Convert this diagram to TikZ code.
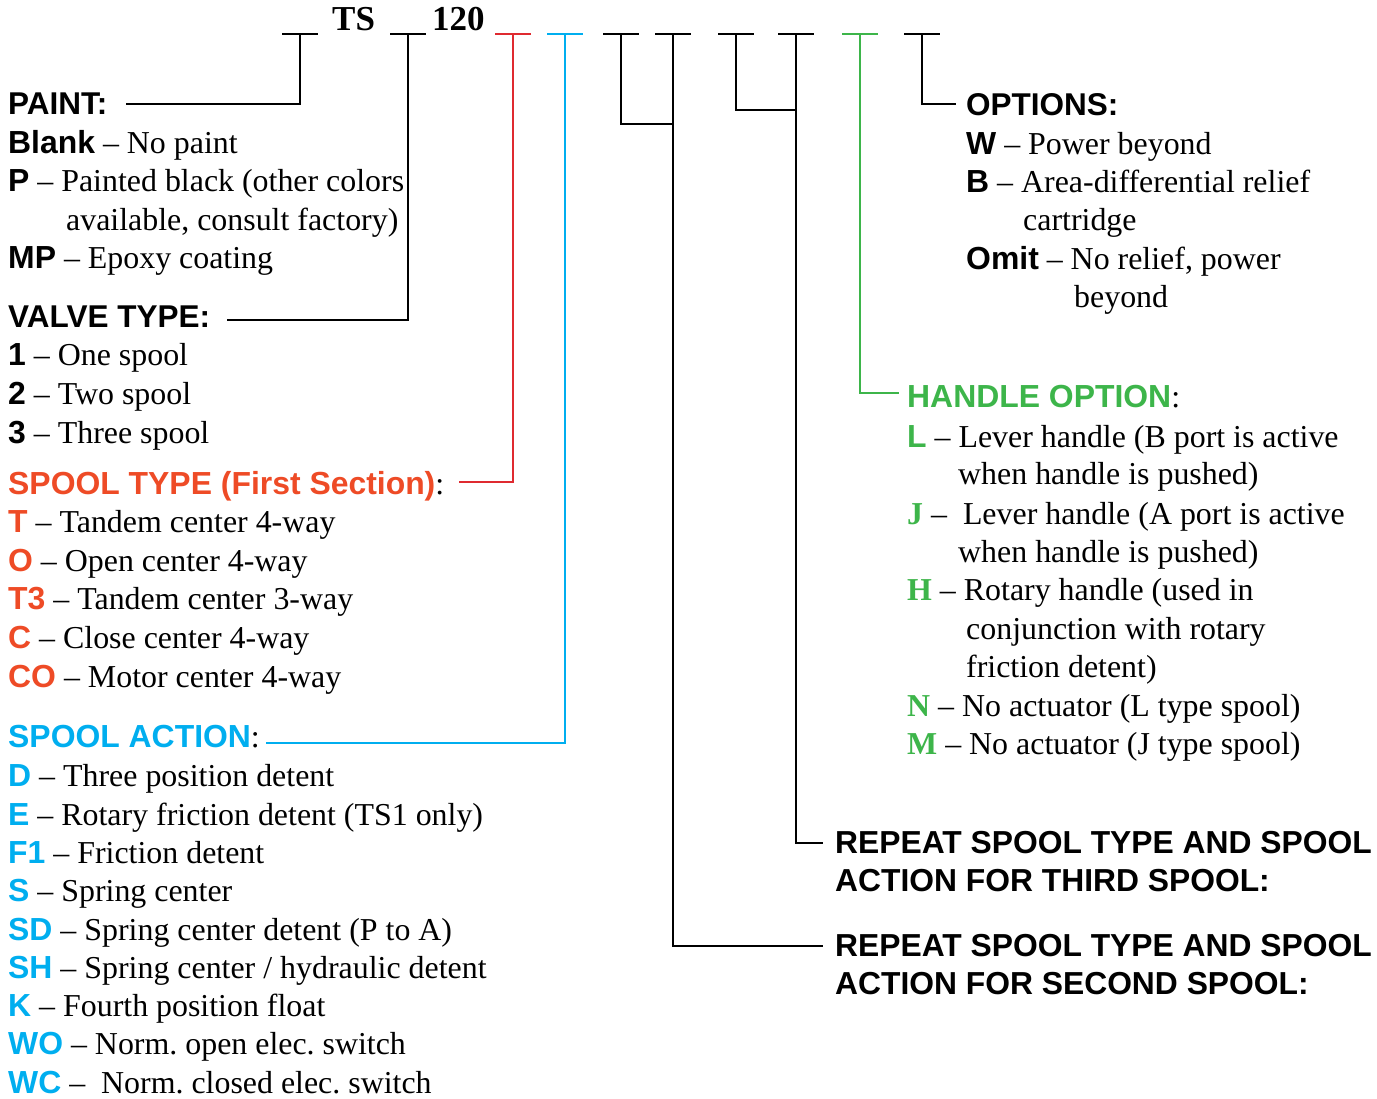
\documentclass[tikz,border=0pt]{standalone}
\usepackage{fontspec}
\setmainfont{Liberation Serif}
\setsansfont{Liberation Sans}
\frenchspacing
\definecolor{lred}{HTML}{DF2A30}
\definecolor{tred}{HTML}{EE4B26}
\definecolor{cblue}{HTML}{00AEEF}
\definecolor{cgreen}{HTML}{3DB54A}
\newcommand\kc[1]{{\sffamily\bfseries #1}}
\newcommand\ks[1]{{\bfseries #1}}
\tikzset{
  txt/.style={anchor=base west, inner sep=0pt, font=\fontsize{31.9}{38}\selectfont\frenchspacing},
  hdr/.style={txt, font=\fontsize{31.5}{38}\selectfont\sffamily\bfseries},
  rpt/.style={txt, font=\fontsize{31.8}{38}\selectfont\sffamily\bfseries},
  code/.style={txt, font=\fontsize{35}{40}\selectfont\bfseries},
  conn/.style={line width=2.4pt, line cap=rect},
  blankline/.style={line width=2.4pt},
}
\begin{document}
\begin{tikzpicture}[x=1pt,y=-1pt]
\useasboundingbox (0,0) rectangle (1377,1099);

% code header
\node[code] (ts) at (332,31) {TS};
\node[code] (onetwenty) at (432,31) {120};

% blanks (stem tops)
\coordinate (b1) at (300,34);
\coordinate (b2) at (408,34);
\coordinate (b3) at (513,34);
\coordinate (b4) at (565,34);
\coordinate (b5) at (621,34);
\coordinate (b6) at (673,34);
\coordinate (b7) at (736,34);
\coordinate (b8) at (796,34);
\coordinate (b9) at (860,34);
\coordinate (b10) at (922,34);
\foreach \b/\c in {b1/black,b2/black,b3/lred,b4/cblue,b5/black,b6/black,b7/black,b8/black,b9/cgreen,b10/black}{
  \draw[blankline,draw=\c] ([xshift=-18pt]\b) -- ([xshift=18pt]\b);
}

% connector ends
\coordinate (e1) at (127,104);
\coordinate (e2) at (228,320);
\coordinate (e3) at (460,482);
\coordinate (e4) at (267,743);
\coordinate (j5) at (673,124);
\coordinate (e6) at (822,946);
\coordinate (j7) at (796,110);
\coordinate (e8) at (822,843);
\coordinate (e9) at (898,393);
\coordinate (e10) at (955,104);

\draw[conn] (b1) |- (e1);
\draw[conn] (b2) |- (e2);
\draw[conn,draw=lred] (b3) |- (e3);
\draw[conn,draw=cblue] (b4) |- (e4);
\draw[conn] (b5) |- (j5);
\draw[conn] (b6) |- (e6);
\draw[conn] (b7) |- (j7);
\draw[conn] (b8) |- (e8);
\draw[conn,draw=cgreen] (b9) |- (e9);
\draw[conn] (b10) |- (e10);

% left column
\node[hdr] (paint) at (8,115) {PAINT:};
\node[txt] (p1) at (8,154) {\kc{Blank} -- No paint};
\node[txt] (p2) at (8,192) {\kc{P} -- Painted black (other colors};
\node[txt] (p3) at (66,231) {available, consult factory)};
\node[txt] (p4) at (8,269) {\kc{MP} -- Epoxy coating};

\node[hdr] (valve) at (8,328) {VALVE TYPE:};
\node[txt] (v1) at (8,366) {\kc{1} -- One spool};
\node[txt] (v2) at (8,404) {\kc{2} -- Two spool};
\node[txt] (v3) at (8,443) {\kc{3} -- Three spool};

\node[txt] (stype) at (8,494) {\kc{\color{tred}SPOOL TYPE (First Section)}:};
\node[txt] (s1) at (8,532) {\kc{\color{tred}T} -- Tandem center 4-way};
\node[txt] (s2) at (8,571) {\kc{\color{tred}O} -- Open center 4-way};
\node[txt] (s3) at (8,609) {\kc{\color{tred}T3} -- Tandem center 3-way};
\node[txt] (s4) at (8,648) {\kc{\color{tred}C} -- Close center 4-way};
\node[txt] (s5) at (8,687) {\kc{\color{tred}CO} -- Motor center 4-way};

\node[txt] (saction) at (8,747) {\kc{\color{cblue}SPOOL ACTION}:};
\node[txt] (a1) at (8,786) {\kc{\color{cblue}D} -- Three position detent};
\node[txt] (a2) at (8,825) {\kc{\color{cblue}E} -- Rotary friction detent (TS1 only)};
\node[txt] (a3) at (8,863) {\kc{\color{cblue}F1} -- Friction detent};
\node[txt] (a4) at (8,901) {\kc{\color{cblue}S} -- Spring center};
\node[txt] (a5) at (8,940) {\kc{\color{cblue}SD} -- Spring center detent (P to A)};
\node[txt] (a6) at (8,978) {\kc{\color{cblue}SH} -- Spring center / hydraulic detent};
\node[txt] (a7) at (8,1016) {\kc{\color{cblue}K} -- Fourth position float};
\node[txt] (a8) at (8,1054) {\kc{\color{cblue}WO} -- Norm. open elec. switch};
\node[txt] (a9) at (8,1093) {\kc{\color{cblue}WC} --\ \ Norm. closed elec. switch};

% right column
\node[hdr] (options) at (966,116) {OPTIONS:};
\node[txt] (o1) at (966,155) {\kc{W} -- Power beyond};
\node[txt] (o2) at (966,193) {\kc{B} -- Area-differential relief};
\node[txt] (o3) at (1023,231) {cartridge};
\node[txt] (o4) at (966,270) {\kc{Omit} -- No relief, power};
\node[txt] (o5) at (1074,308) {beyond};

\node[txt] (handle) at (907,407) {\kc{\color{cgreen}HANDLE OPTION}:};
\node[txt] (h1) at (907,447) {\kc{\color{cgreen}L} -- Lever handle (B port is active};
\node[txt] (h2) at (958,484) {when handle is pushed)};
\node[txt] (h3) at (907,524) {\ks{\color{cgreen}J} --\ \ Lever handle (A port is active};
\node[txt] (h4) at (958,562) {when handle is pushed)};
\node[txt] (h5) at (907,600) {\ks{\color{cgreen}H} -- Rotary handle (used in};
\node[txt] (h6) at (966,639) {conjunction with rotary};
\node[txt] (h7) at (966,677) {friction detent)};
\node[txt] (h8) at (907,716) {\ks{\color{cgreen}N} -- No actuator (L type spool)};
\node[txt] (h9) at (907,754) {\ks{\color{cgreen}M} -- No actuator (J type spool)};

% repeat notes
\node[rpt] (third1) at (835,853) {REPEAT SPOOL TYPE AND SPOOL};
\node[rpt] (third2) at (835,891) {ACTION FOR THIRD SPOOL:};
\node[rpt] (second1) at (835,956) {REPEAT SPOOL TYPE AND SPOOL};
\node[rpt] (second2) at (835,994) {ACTION FOR SECOND SPOOL:};
\end{tikzpicture}
\end{document}
